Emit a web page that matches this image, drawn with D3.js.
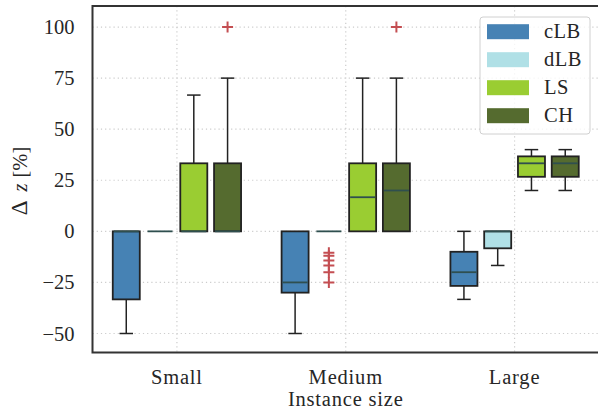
<!DOCTYPE html>
<html>
<head>
<meta charset="utf-8">
<script src="https://cdn.jsdelivr.net/npm/d3@7"></script>
<style>
  body { margin: 0; background: #fff; }
  svg text { font-family: "Liberation Serif", "Times New Roman", serif; fill: #262626; }
</style>
</head>
<body>
<div id="chart"></div>
<script>
// Категории и серии
const categories = ["Small", "Medium", "Large"];
const series = ["cLB", "dLB", "LS", "CH"];
const colors = ["#4682b4", "#b0e0e6", "#9acd32", "#556b2f"];
const yTicks = [-50, -25, 0, 25, 50, 75, 100];

// Статистика ящиков: по каждой серии значения для Small, Medium, Large
const whiskerLow = {
    cLB: [-50, -50, -33.3],
    dLB: [0, 0, -16.7],
    LS: [0, 0, 20],
    CH: [0, 0, 20]
};
const q1 = {
    cLB: [-33.3, -30, -26.7],
    dLB: [0, 0, -8.3],
    LS: [0, 0, 26.7],
    CH: [0, 0, 26.7]
};
const median = {
    cLB: [0, -25, -20],
    dLB: [0, 0, 0],
    LS: [0, 16.7, 33.3],
    CH: [0, 20, 33.3]
};
const q3 = {
    cLB: [0, 0, -10],
    dLB: [0, 0, 0],
    LS: [33.3, 33.3, 36.7],
    CH: [33.3, 33.3, 36.7]
};
const whiskerHigh = {
    cLB: [0, 0, 0],
    dLB: [0, 0, 0],
    LS: [66.7, 75, 40],
    CH: [75, 75, 40]
};
const outliers = {
    cLB: [[], [], []],
    dLB: [[], [-10.5, -12, -14.3, -16.7, -20, -25], []],
    LS: [[], [], []],
    CH: [[100], [100], []]
};

// Размеры
const width = 598;
const height = 413;
const plotLeft = 92.5, plotRight = 599, plotTop = 6, plotBottom = 352.5;
const fontSize = "20.5px";

const svg = d3.select("#chart").append("svg")
    .attr("width", width)
    .attr("height", height);

// Шкалы
const xScale = d3.scaleBand()
    .domain(categories)
    .range([plotLeft, plotRight])
    .padding(0);

const yScale = d3.scaleLinear()
    .domain([-59.3, 110.3])
    .range([plotBottom, plotTop]);

const groupScale = d3.scaleBand()
    .domain(series)
    .range([-xScale.bandwidth() * 0.4, xScale.bandwidth() * 0.4])
    .padding(0);

const boxW = groupScale.bandwidth() * 0.8;
const capW = boxW * 0.5;

// Сетка
const grid = svg.append("g");
yTicks.forEach(t => {
    grid.append("line")
        .attr("x1", plotLeft).attr("x2", plotRight)
        .attr("y1", yScale(t)).attr("y2", yScale(t))
        .attr("stroke", "#cccccc")
        .attr("stroke-width", 1.2)
        .attr("stroke-dasharray", "1.2,3");
});
categories.forEach(c => {
    const x = xScale(c) + xScale.bandwidth() / 2;
    grid.append("line")
        .attr("x1", x).attr("x2", x)
        .attr("y1", plotTop).attr("y2", plotBottom)
        .attr("stroke", "#cccccc")
        .attr("stroke-width", 1.2)
        .attr("stroke-dasharray", "1.2,3");
});

// Ящики
series.forEach((s, si) => {
    categories.forEach((c, ci) => {
        const cx = xScale(c) + xScale.bandwidth() / 2 + groupScale(s) + groupScale.bandwidth() / 2;
        const g = svg.append("g");
        // усы
        g.append("line")
            .attr("x1", cx).attr("x2", cx)
            .attr("y1", yScale(whiskerLow[s][ci])).attr("y2", yScale(q1[s][ci]))
            .attr("stroke", "#222").attr("stroke-width", 1.5);
        g.append("line")
            .attr("x1", cx).attr("x2", cx)
            .attr("y1", yScale(q3[s][ci])).attr("y2", yScale(whiskerHigh[s][ci]))
            .attr("stroke", "#222").attr("stroke-width", 1.5);
        if (whiskerLow[s][ci] !== q1[s][ci]) {
            g.append("line")
                .attr("x1", cx - capW / 2).attr("x2", cx + capW / 2)
                .attr("y1", yScale(whiskerLow[s][ci])).attr("y2", yScale(whiskerLow[s][ci]))
                .attr("stroke", "#222").attr("stroke-width", 1.5);
        }
        if (whiskerHigh[s][ci] !== q3[s][ci]) {
            g.append("line")
                .attr("x1", cx - capW / 2).attr("x2", cx + capW / 2)
                .attr("y1", yScale(whiskerHigh[s][ci])).attr("y2", yScale(whiskerHigh[s][ci]))
                .attr("stroke", "#222").attr("stroke-width", 1.5);
        }
        // коробка
        if (q3[s][ci] !== q1[s][ci]) {
            g.append("rect")
                .attr("x", cx - boxW / 2)
                .attr("y", yScale(q3[s][ci]))
                .attr("width", boxW)
                .attr("height", yScale(q1[s][ci]) - yScale(q3[s][ci]))
                .attr("fill", colors[si])
                .attr("stroke", "#222")
                .attr("stroke-width", 1.8);
        }
        // медиана
        g.append("line")
            .attr("x1", cx - boxW / 2 + 1).attr("x2", cx + boxW / 2 - 1)
            .attr("y1", yScale(median[s][ci])).attr("y2", yScale(median[s][ci]))
            .attr("stroke", "#2f4f4f").attr("stroke-width", 1.8);
        // выбросы
        outliers[s][ci].forEach(v => {
            const y = yScale(v);
            g.append("path")
                .attr("d", `M${cx - 5.5},${y}H${cx + 5.5}M${cx},${y - 5.5}V${y + 5.5}`)
                .attr("stroke", "#c44e52").attr("stroke-width", 2);
        });
    });
});

// Рамка
svg.append("path")
    .attr("d", `M${plotRight},${plotTop}H${plotLeft}V${plotBottom}H${plotRight}`)
    .attr("fill", "none")
    .attr("stroke", "#333")
    .attr("stroke-width", 2);

// Ось Y
const yAxis = svg.append("g")
    .attr("transform", `translate(${plotLeft}, 0)`)
    .call(d3.axisLeft(yScale).tickValues(yTicks).tickSize(0).tickPadding(18));
yAxis.select(".domain").remove();
yAxis.selectAll("text")
    .style("font-family", "Liberation Serif, serif")
    .style("font-size", fontSize)
    .attr("fill", "#262626");

// Ось X
const xAxis = svg.append("g")
    .attr("transform", `translate(0, ${plotBottom})`)
    .call(d3.axisBottom(xScale).tickSize(0).tickPadding(17));
xAxis.select(".domain").remove();
xAxis.selectAll("text")
    .style("font-family", "Liberation Serif, serif")
    .style("font-size", fontSize)
    .style("letter-spacing", "0.8px")
    .attr("fill", "#262626");

// Подписи осей
svg.append("text")
    .attr("x", (plotLeft + plotRight) / 2)
    .attr("y", 406)
    .attr("text-anchor", "middle")
    .style("font-size", fontSize)
    .style("letter-spacing", "0.8px")
    .text("Instance size");

const yLabel = svg.append("text")
    .attr("transform", `translate(27, 181) rotate(-90)`)
    .attr("text-anchor", "middle")
    .style("font-size", fontSize);
yLabel.append("tspan").style("font-size", "23px").text("Δ");
yLabel.append("tspan").attr("dx", 9).style("font-style", "italic").text("z");
yLabel.append("tspan").attr("dx", 6).text("[%]");

// Легенда
const legend = svg.append("g");
legend.append("rect")
    .attr("x", 480).attr("y", 17)
    .attr("width", 110).attr("height", 117)
    .attr("rx", 3)
    .attr("fill", "rgba(255,255,255,0.8)")
    .attr("stroke", "#d0d0d0")
    .attr("stroke-width", 1);
series.forEach((s, i) => {
    const y = 31.7 + i * 28;
    legend.append("rect")
        .attr("x", 487).attr("y", y - 7.5)
        .attr("width", 42).attr("height", 15)
        .attr("fill", colors[i]);
    legend.append("text")
        .attr("x", 544).attr("y", y + 6.5)
        .style("font-size", fontSize)
        .style("letter-spacing", "0.5px")
        .text(s);
});
</script>
</body>
</html>
